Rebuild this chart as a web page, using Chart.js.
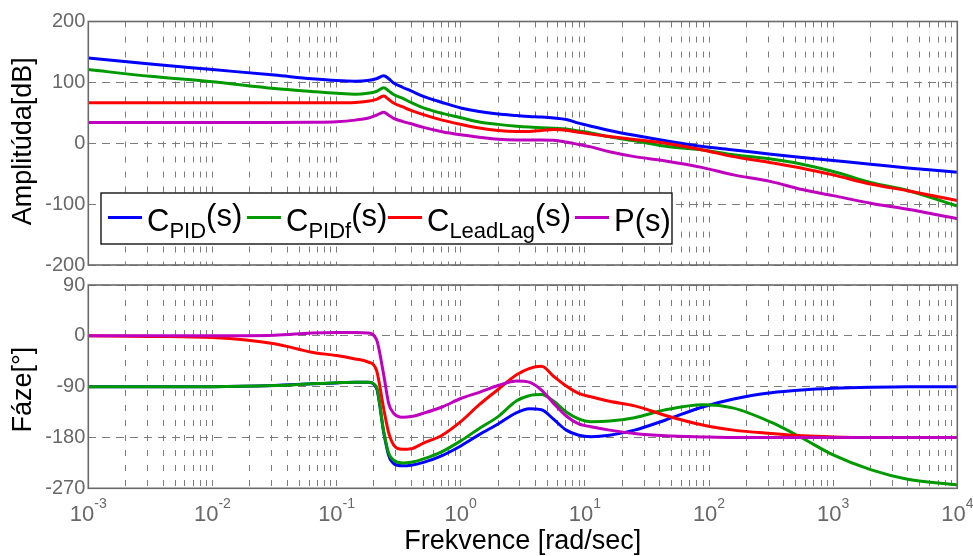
<!DOCTYPE html>
<html lang="cs">
<head>
  <meta charset="UTF-8">
  <title>Bodeho diagram regulátorů</title>
  <script src="https://cdn.jsdelivr.net/npm/chart.js@4"></script>
  <style>
    * { margin: 0; padding: 0; box-sizing: border-box; }
    body { background: #fff; width: 973px; height: 556px; overflow: hidden; }
    .wrap { position: relative; width: 973px; height: 556px; }
    canvas { position: absolute; left: 0; }
    #ampChart { top: 0; width: 973px; height: 280px; }
    #phaseChart { top: 270px; width: 973px; height: 286px; }
  </style>
</head>
<body>
  <div class="wrap">
    <canvas id="ampChart" width="973" height="280"></canvas>
    <canvas id="phaseChart" width="973" height="286"></canvas>
  </div>
  <script>
    // frekvence [rad/s]
    var freq = [0.001, 0.00316, 0.01, 0.0316, 0.0631, 0.1, 0.141, 0.178, 0.209, 0.240,
                0.263, 0.288, 0.339, 0.398, 0.501, 0.708, 1, 1.41, 2.0, 2.82,
                3.55, 4.47, 5.62, 7.08, 8.91, 11.2, 15.8, 25.1, 44.7, 89.1,
                158, 316, 562, 1000, 2000, 3980, 10000];

    // amplituda [dB]
    var magPID = [140, 130, 121, 112, 106, 103, 102, 103, 106, 111,
                  106, 99, 92, 86, 77, 67, 58, 52, 48, 45.5,
                  44, 43, 41.5, 39, 33, 28, 21, 13, 4, -5.5,
                  -11, -18, -23.5, -28.5, -34.5, -40.5, -47.5];
    var magPIDf = [121, 110, 101, 90, 85, 82, 80.5, 82, 85, 91,
                   86, 80, 74, 67, 58, 49, 42, 35, 31, 28,
                   26.5, 25.5, 24.5, 23.5, 20, 17, 10.5, 4, -5, -11,
                   -19, -26, -34.5, -46.5, -64.5, -77.5, -103];
    var magLeadLag = [66.5, 66.5, 66.5, 66.5, 66.5, 66.5, 67, 69, 72, 77.5,
                      72, 66, 60, 54, 47, 38, 31, 25, 21, 19.5,
                      19.5, 21, 22.5, 21.5, 18, 15, 11, 6, 0, -11,
                      -22, -32, -41, -52, -67, -78, -94];
    var magP = [34, 34, 34, 34, 34.5, 35.5, 38, 41, 46, 51,
                46, 41, 36, 32, 26, 19, 14, 10, 6.5, 5.5,
                5.5, 5.5, 5, 2, -2, -6, -14, -22, -29, -40,
                -52, -63, -76, -86, -98.5, -108.5, -124];

    // fáze [°]
    var phPID = [-90, -90, -90, -88, -85, -83.5, -82, -82, -92, -172,
                 -212, -226, -230, -229, -224, -212, -195, -175, -156, -136,
                 -129, -131, -148, -167, -176, -178.5, -176, -167, -149, -126,
                 -112, -101, -96, -93, -91, -90, -90];
    var phPIDf = [-90, -90, -90, -88, -85, -83, -82, -82, -90, -170,
                  -208, -220, -225, -224, -218, -205, -186, -164, -143, -115,
                  -106, -104, -116, -135, -147, -152, -151, -145, -131, -122,
                  -128, -153, -181, -211, -237, -254, -264];
    var phLeadLag = [0, -1, -3, -14, -29, -35, -41, -46, -60, -130,
                     -172, -193, -201, -200, -190, -176, -152, -122, -95, -69,
                     -58, -54, -72, -89, -102, -108, -116, -124, -141, -158,
                     -167, -173, -177, -179, -180, -180, -180];
    var phP = [0, 0, 0, 1, 5, 6, 6, 5, -6, -70,
               -120, -137, -144, -143, -137, -126, -111, -100, -88, -80,
               -82, -96, -120, -142, -156, -161, -167, -173, -177, -179,
               -180, -180, -180, -180, -180, -180, -180];

    var seriesColors = ['#0000ff', '#009a00', '#ff0000', '#bf00bf'];
    var seriesLabels = [
      { main: 'C', sub: 'PID', tail: '(s)' },
      { main: 'C', sub: 'PIDf', tail: '(s)' },
      { main: 'C', sub: 'LeadLag', tail: '(s)' },
      { main: 'P', sub: '', tail: '(s)' }
    ];

    // popisky os
    var ampTicks = [-200, -100, 0, 100, 200];
    var phaseTicks = [-270, -180, -90, 0, 90];
    var decadeTicks = [1e-3, 1e-2, 1e-1, 1, 1e1, 1e2, 1e3, 1e4];
    var decadeExp = ['-3', '-2', '-1', '0', '1', '2', '3', '4'];

    var FONT = '"Liberation Sans", Arial, sans-serif';
    var GRID = '#7c7c7c';
    var TICK = '#686868';

    // mřížka na 1..9 × 10^n
    var xGrid = [];
    decadeTicks.forEach(function (d, i) {
      if (i === decadeTicks.length - 1) { xGrid.push(d); return; }
      for (var m = 1; m <= 9; m++) xGrid.push(m * d);
    });

    function series(ys) {
      return freq.map(function (w, i) { return { x: w, y: ys[i] }; });
    }
    function makeDatasets(list) {
      return list.map(function (ys, i) {
        return {
          data: series(ys), borderColor: seriesColors[i], backgroundColor: seriesColors[i],
          borderWidth: 3, pointRadius: 0, fill: false,
          cubicInterpolationMode: 'monotone', order: 4 - i
        };
      });
    }

    // rámeček a popis svislé osy
    var framePlugin = {
      id: 'frame',
      afterDraw: function (chart, args, opts) {
        var ctx = chart.ctx, a = chart.chartArea;
        ctx.save();
        ctx.strokeStyle = '#6a6a6a';
        ctx.lineWidth = 1.6;
        ctx.strokeRect(a.left, a.top, a.right - a.left, a.bottom - a.top);
        ctx.translate(opts.titleX, (a.top + a.bottom) / 2 + opts.titleShift);
        ctx.rotate(-Math.PI / 2);
        ctx.fillStyle = '#000';
        ctx.font = '27px ' + FONT;
        ctx.textAlign = 'center';
        ctx.textBaseline = 'alphabetic';
        ctx.fillText(opts.title, 0, 0);
        ctx.restore();
      }
    };

    // legenda s dolními indexy
    var legendPlugin = {
      id: 'subLegend',
      afterDraw: function (chart, args, opts) {
        var ctx = chart.ctx;
        ctx.save();
        ctx.fillStyle = '#fff';
        ctx.fillRect(opts.left, opts.top, opts.width, opts.height);
        ctx.strokeStyle = '#000';
        ctx.lineWidth = 1.3;
        ctx.strokeRect(opts.left, opts.top, opts.width, opts.height);
        ctx.textBaseline = 'alphabetic';
        ctx.textAlign = 'left';
        seriesLabels.forEach(function (lab, i) {
          var x = opts.starts[i];
          ctx.strokeStyle = seriesColors[i];
          ctx.lineWidth = 3;
          ctx.beginPath();
          ctx.moveTo(x, opts.lineY);
          ctx.lineTo(x + 34, opts.lineY);
          ctx.stroke();
          x += 39;
          ctx.fillStyle = '#000';
          ctx.font = '31px ' + FONT;
          ctx.fillText(lab.main, x, opts.baseY);
          x += ctx.measureText(lab.main).width;
          if (lab.sub) {
            ctx.font = '22px ' + FONT;
            ctx.fillText(lab.sub, x, opts.baseY + 7);
            x += ctx.measureText(lab.sub).width;
            ctx.font = '31px ' + FONT;
            ctx.fillText(lab.tail, x, opts.baseY - 5);
          } else {
            ctx.fillText(lab.tail, x, opts.baseY);
          }
        });
        ctx.restore();
      }
    };

    // popisky dekád 10^n a název vodorovné osy
    var freqAxisPlugin = {
      id: 'freqAxis',
      afterDraw: function (chart, args, opts) {
        var ctx = chart.ctx, xs = chart.scales.x, a = chart.chartArea;
        ctx.save();
        ctx.fillStyle = TICK;
        ctx.textAlign = 'left';
        ctx.textBaseline = 'alphabetic';
        decadeTicks.forEach(function (v, i) {
          ctx.font = '22px ' + FONT;
          var wBase = ctx.measureText('10').width;
          ctx.font = '14px ' + FONT;
          var wExp = ctx.measureText(decadeExp[i]).width;
          var x0 = xs.getPixelForValue(v) - (wBase + wExp) / 2;
          ctx.font = '22px ' + FONT;
          ctx.fillText('10', x0, opts.labelY);
          ctx.font = '14px ' + FONT;
          ctx.fillText(decadeExp[i], x0 + wBase, opts.labelY - 13);
        });
        ctx.fillStyle = '#000';
        ctx.font = '27px ' + FONT;
        ctx.textAlign = 'center';
        ctx.fillText('Frekvence [rad/sec]', (a.left + a.right) / 2, opts.titleY);
        ctx.restore();
      }
    };

    function bodeOptions(yTicks, pad, xHeight) {
      return {
        responsive: false,
        animation: false,
        layout: { padding: pad },
        plugins: { legend: { display: false }, tooltip: { enabled: false } },
        scales: {
          x: {
            type: 'logarithmic', min: 1e-3, max: 1e4,
            afterBuildTicks: function (s) { s.ticks = xGrid.map(function (v) { return { value: v }; }); },
            afterFit: function (s) { s.height = xHeight; },
            ticks: { display: false },
            grid: { color: GRID, lineWidth: 1, drawTicks: false },
            border: { display: false, dash: [6, 9] }
          },
          y: {
            min: yTicks[0], max: yTicks[yTicks.length - 1],
            afterBuildTicks: function (s) { s.ticks = yTicks.map(function (v) { return { value: v }; }); },
            afterFit: function (s) { s.width = 88.3; },
            ticks: { color: TICK, font: { family: FONT, size: 20 }, padding: 3 },
            grid: { color: GRID, lineWidth: 1, drawTicks: false },
            border: { display: false, dash: [8, 6] }
          }
        }
      };
    }

    var ampOpts = bodeOptions(ampTicks, { left: 0, right: 15.7, top: 21.5, bottom: 14.7 }, 0);
    ampOpts.plugins.frame = { title: 'Amplitúda[dB]', titleX: 31, titleShift: -2 };
    ampOpts.plugins.subLegend = {
      left: 101, top: 193, width: 571, height: 51,
      starts: [108, 247, 388, 575], lineY: 217.5, baseY: 231
    };
    new Chart(document.getElementById('ampChart'), {
      type: 'line',
      data: { datasets: makeDatasets([magPID, magPIDf, magLeadLag, magP]) },
      options: ampOpts,
      plugins: [framePlugin, legendPlugin]
    });

    var phaseOpts = bodeOptions(phaseTicks, { left: 0, right: 15.7, top: 12.5, bottom: 0 }, 67.7);
    phaseOpts.plugins.frame = { title: 'Fáze[°]', titleX: 31, titleShift: 3 };
    phaseOpts.plugins.freqAxis = { labelY: 251, titleY: 279 };
    new Chart(document.getElementById('phaseChart'), {
      type: 'line',
      data: { datasets: makeDatasets([phPID, phPIDf, phLeadLag, phP]) },
      options: phaseOpts,
      plugins: [framePlugin, freqAxisPlugin]
    });
  </script>
</body>
</html>
